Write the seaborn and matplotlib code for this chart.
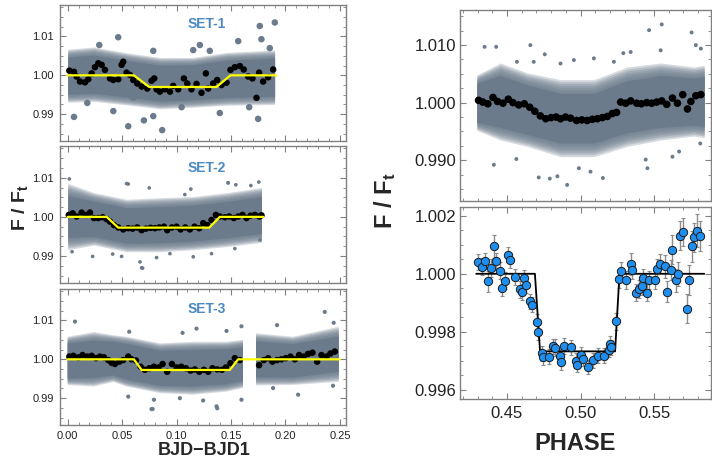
import numpy as np
import matplotlib
matplotlib.use('Agg')
import matplotlib.pyplot as plt
from matplotlib.ticker import MultipleLocator, FormatStrFormatter
import seaborn as sns

# ---- colours
CLOUD = '#6c7b8c'
TITLE_C = '#4b89c2'
SPINE_C = '#808080'
BLUE = '#1f8fef'

# ---- SET-1 (time since BJD1)
s1_cx = [0.000, 0.024, 0.054, 0.085, 0.115, 0.146, 0.190]
s1_mid = [0.9999, 1.0003, 0.9991, 0.9980, 0.9982, 0.9991, 0.9995]
s1_core = [0.0048, 0.0049, 0.0047, 0.0046, 0.0045, 0.0048, 0.0049]
s1_outer = [0.0068, 0.0070, 0.0067, 0.0066, 0.0064, 0.0068, 0.0070]
s1_ox = [0.0464, 0.0058, 0.0556, 0.0868, 0.0700, 0.0786, 0.1764, 0.1902, 0.1749, 0.1397,
         0.0180, 0.0290, 0.0786, 0.1153, 0.1305, 0.1566, 0.1779, 0.1856, 0.1214, 0.0419,
         0.1046, 0.1667, 0.0602]
s1_oy = [1.0098, 0.9893, 0.9869, 0.9859, 0.9884, 0.9895, 1.0127, 1.0136, 0.9888, 0.9903,
         0.9929, 1.0078, 1.0063, 1.0065, 1.0063, 1.0088, 1.0093, 1.0070, 1.0078, 0.9908,
         0.9918, 0.9918, 0.9943]
s1_bx = [0.0015, 0.0058, 0.0082, 0.0113, 0.0159, 0.0189, 0.0220, 0.0250, 0.0281, 0.0312,
         0.0342, 0.0388, 0.0419, 0.0465, 0.0495, 0.0510, 0.0541, 0.0572, 0.0602, 0.0639,
         0.0679, 0.0731, 0.0770, 0.0795, 0.0816, 0.0847, 0.0893, 0.0939, 0.0969, 0.1015,
         0.1067, 0.1098, 0.1137, 0.1183, 0.1229, 0.1269, 0.1290, 0.1336, 0.1373, 0.1413,
         0.1459, 0.1495, 0.1535, 0.1581, 0.1617, 0.1657, 0.1697, 0.1734, 0.1758, 0.1795,
         0.1841, 0.1887]
s1_by = [1.0012, 1.0009, 0.9997, 0.9984, 0.9982, 0.9990, 1.0005, 1.0021, 1.0031, 1.0027,
         1.0014, 0.9992, 0.9988, 0.9990, 1.0027, 1.0035, 1.0007, 1.0001, 0.9988, 0.9979,
         0.9971, 0.9966, 0.9986, 0.9992, 0.9964, 0.9958, 0.9964, 0.9958, 0.9973, 0.9964,
         0.9992, 0.9979, 0.9964, 0.9978, 0.9955, 1.0005, 0.9966, 0.9979, 0.9988, 0.9975,
         0.9981, 1.0014, 1.0021, 1.0024, 1.0015, 0.9997, 0.9992, 0.9942, 1.0007, 0.9984,
         0.9995, 1.0015]
s1_mx = [0.000, 0.0608, 0.0749, 0.1367, 0.1495, 0.1917]
s1_my = [1.000, 1.000, 0.9970, 0.9970, 1.000, 1.000]

# ---- SET-2
s2_cx = [0.000, 0.024, 0.054, 0.085, 0.115, 0.146, 0.178]
s2_mid = [1.0001, 0.9995, 0.9978, 0.9980, 0.9984, 0.9993, 1.0005]
s2_core = [0.0053, 0.0045, 0.0045, 0.0046, 0.0046, 0.0046, 0.0047]
s2_outer = [0.0085, 0.0067, 0.0067, 0.0069, 0.0068, 0.0069, 0.0070]
s2_ox = [0.0015, 0.0556, 0.0749, 0.1076, 0.1474, 0.1544, 0.1682, 0.1755, 0.0040, 0.0229,
         0.0413, 0.0495, 0.0679, 0.0664, 0.0816, 0.0939, 0.1153, 0.1321, 0.1535, 0.1765,
         0.0541, 0.0688, 0.1131, 0.1473]
s2_oy = [1.0097, 1.0084, 1.0074, 1.0057, 1.0087, 1.0082, 1.0080, 1.0089, 0.9911, 0.9899,
         0.9905, 0.9899, 0.9870, 0.9885, 0.9896, 0.9906, 0.9898, 0.9906, 0.9919, 0.9941,
         1.0085, 0.9869, 1.0071, 1.0087]
s2_bx = [0.0010, 0.0046, 0.0082, 0.0128, 0.0168, 0.0205, 0.0241, 0.0281, 0.0321, 0.0358,
         0.0388, 0.0425, 0.0465, 0.0510, 0.0556, 0.0596, 0.0639, 0.0679, 0.0719, 0.0761,
         0.0801, 0.0841, 0.0884, 0.0914, 0.0957, 0.1000, 0.1037, 0.1080, 0.1122, 0.1165,
         0.1208, 0.1245, 0.1281, 0.1321, 0.1361, 0.1397, 0.1443, 0.1483, 0.1526, 0.1566,
         0.1606, 0.1642, 0.1679, 0.1719, 0.1759, 0.1780]
s2_by = [1.0005, 1.0009, 1.0001, 1.0011, 1.0005, 1.0011, 0.9997, 0.9997, 0.9999, 0.9994,
         0.9988, 0.9979, 0.9973, 0.9968, 0.9971, 0.9970, 0.9973, 0.9966, 0.9970, 0.9972,
         0.9971, 0.9973, 0.9975, 0.9966, 0.9973, 0.9975, 0.9968, 0.9973, 0.9968, 0.9975,
         0.9971, 0.9984, 0.9979, 0.9992, 1.0005, 1.0001, 0.9999, 1.0001, 0.9997, 1.0001,
         1.0005, 0.9997, 1.0003, 1.0005, 1.0001, 1.0004]
s2_mx = [0.000, 0.0358, 0.0464, 0.1300, 0.1397, 0.1795]
s2_my = [1.000, 1.000, 0.99725, 0.99725, 1.000, 1.000]

# ---- SET-3 (gap in the data around 0.167)
s3_cx = [0.000, 0.024, 0.042, 0.054, 0.085, 0.115, 0.146, 0.161, 0.167, 0.173, 0.207, 0.249]
s3_mid = [0.9996, 1.0000, 1.0002, 0.9994, 0.9977, 0.9977, 0.9981, 0.9988, np.nan, 1.0000, 0.9996, 1.0013]
s3_core = [0.0045, 0.0048, 0.0043, 0.0046, 0.0045, 0.0047, 0.0045, 0.0043, np.nan, 0.0046, 0.0043, 0.0045]
s3_outer = [0.0062, 0.0070, 0.0060, 0.0064, 0.0064, 0.0068, 0.0064, 0.0062, np.nan, 0.0067, 0.0062, 0.0071]
s3_ox = [0.0067, 0.0565, 0.1183, 0.1596, 0.2361, 0.2443, 0.1923, 0.0792, 0.0770, 0.1030,
         0.1244, 0.1367, 0.1596, 0.1886, 0.2116, 0.2437, 0.0556, 0.0780, 0.1373, 0.1055,
         0.1459]
s3_oy = [1.0097, 1.0071, 1.0079, 1.0085, 1.0122, 1.0094, 1.0088, 0.9896, 0.9872, 0.9900,
         0.9894, 0.9879, 0.9896, 0.9926, 0.9909, 0.9932, 0.9904, 0.9872, 0.9874, 1.0068,
         1.0073]
s3_bx = [0.0015, 0.0052, 0.0098, 0.0137, 0.0180, 0.0220, 0.0260, 0.0296, 0.0333, 0.0373,
         0.0404, 0.0434, 0.0474, 0.0510, 0.0556, 0.0587, 0.0627, 0.0670, 0.0709, 0.0749,
         0.0792, 0.0835, 0.0872, 0.0914, 0.0957, 0.1000, 0.1043, 0.1086, 0.1128, 0.1168,
         0.1208, 0.1251, 0.1290, 0.1330, 0.1373, 0.1416, 0.1453, 0.1495, 0.1535, 0.1581,
         0.1758, 0.1801, 0.1841, 0.1880, 0.1923, 0.1963, 0.2003, 0.2046, 0.2086, 0.2125,
         0.2168, 0.2208, 0.2248, 0.2291, 0.2331, 0.2377, 0.2413, 0.2453]
s3_by = [1.0007, 1.0009, 1.0005, 1.0011, 1.0007, 1.0009, 1.0003, 1.0007, 1.0005, 0.9998,
         0.9991, 0.9988, 0.9994, 0.9998, 1.0007, 1.0000, 0.9997, 0.9981, 0.9973, 0.9977,
         0.9981, 0.9979, 0.9988, 0.9968, 0.9988, 0.9979, 0.9981, 0.9977, 0.9971, 0.9974,
         0.9968, 0.9973, 0.9968, 0.9977, 0.9974, 0.9973, 0.9979, 0.9990, 1.0003, 0.9998,
         0.9985, 0.9998, 1.0003, 0.9994, 0.9998, 1.0000, 1.0003, 1.0007, 1.0000, 1.0011,
         1.0007, 1.0014, 1.0017, 0.9994, 1.0011, 1.0007, 1.0015, 1.0020]
s3_mx = [0.000, 0.0608, 0.0679, 0.1489, 0.1565, 0.2498]
s3_my = [1.000, 1.000, 0.99726, 0.99726, 1.000, 1.000]

# ---- phase-folded, all data
rt_cx = [0.4295, 0.4455, 0.4636, 0.4864, 0.5091, 0.5318, 0.5545, 0.5773, 0.5841]
rt_mid = [1.0000, 1.0002, 0.9988, 0.9973, 0.9973, 0.9993, 1.0002, 1.0002, 1.0002]
rt_core = [0.0034, 0.0045, 0.0043, 0.0043, 0.0043, 0.0045, 0.0045, 0.0041, 0.0043]
rt_outer = [0.0048, 0.0067, 0.0064, 0.0067, 0.0067, 0.0069, 0.0067, 0.0060, 0.0063]
rt_ox = [0.4348, 0.4427, 0.4659, 0.4757, 0.5466, 0.5552, 0.5755, 0.5784, 0.5818, 0.4411,
         0.4564, 0.4716, 0.4791, 0.4843, 0.4909, 0.4989, 0.5152, 0.5068, 0.5443, 0.5455,
         0.5625, 0.5670, 0.5814, 0.4864, 0.4955, 0.5091, 0.5227, 0.5291, 0.5341, 0.5545,
         0.4568, 0.4682]
rt_oy = [1.0097, 1.0097, 1.0100, 1.0084, 1.0126, 1.0136, 1.0122, 1.0100, 1.0094, 0.9892,
         0.9902, 0.9870, 0.9868, 0.9872, 0.9857, 0.9886, 0.9869, 0.9880, 0.9901, 0.9886,
         0.9906, 0.9915, 0.9929, 1.0068, 1.0074, 1.0077, 1.0071, 1.0086, 1.0088, 1.0091,
         1.0071, 1.0071]
rt_bx = [0.4307, 0.4336, 0.4370, 0.4405, 0.4436, 0.4473, 0.4509, 0.4541, 0.4580, 0.4618,
         0.4655, 0.4689, 0.4727, 0.4764, 0.4800, 0.4834, 0.4864, 0.4898, 0.4932, 0.4973,
         0.5009, 0.5045, 0.5080, 0.5114, 0.5148, 0.5182, 0.5216, 0.5245, 0.5273, 0.5307,
         0.5341, 0.5382, 0.5414, 0.5450, 0.5484, 0.5518, 0.5552, 0.5586, 0.5625, 0.5659,
         0.5695, 0.5727, 0.5750, 0.5784, 0.5818]
rt_by = [1.0004, 1.0001, 0.9998, 1.0009, 1.0002, 0.9999, 1.0006, 1.0000, 0.9996, 0.9998,
         0.9992, 0.9985, 0.9977, 0.9972, 0.9974, 0.9975, 0.9972, 0.9975, 0.9973, 0.9969,
         0.9970, 0.9969, 0.9971, 0.9972, 0.9974, 0.9976, 0.9981, 0.9983, 1.0001, 0.9999,
         1.0003, 0.9999, 0.9998, 1.0000, 0.9999, 1.0001, 1.0003, 0.9997, 1.0008, 0.9999,
         1.0014, 0.9989, 1.0002, 1.0012, 1.0014]

# ---- binned phase curve with errors
ph = [0.4306, 0.4329, 0.4352, 0.4368, 0.4391, 0.4409, 0.4427, 0.4450, 0.4466, 0.4484,
      0.4507, 0.4523, 0.4552, 0.4586, 0.4600, 0.4618, 0.4632, 0.4659, 0.4670, 0.4702,
      0.4711, 0.4739, 0.4745, 0.4784, 0.4814, 0.4825, 0.4859, 0.4864, 0.4891, 0.4932,
      0.4966, 0.4977, 0.5005, 0.5016, 0.5050, 0.5084, 0.5118, 0.5159, 0.5193, 0.5200,
      0.5207, 0.5239, 0.5262, 0.5273, 0.5309, 0.5341, 0.5352, 0.5380, 0.5396, 0.5418,
      0.5423, 0.5455, 0.5464, 0.5505, 0.5521, 0.5541, 0.5571, 0.5589, 0.5612, 0.5621,
      0.5648, 0.5662, 0.5675, 0.5700, 0.5721, 0.5739, 0.5759, 0.5773, 0.5793, 0.5812]
fl = [1.00040, 1.00025, 1.00045, 0.99975, 1.00020, 1.00094, 1.00043, 1.00011, 0.99952, 0.99976,
      1.00065, 1.00046, 0.99988, 0.99946, 0.99937, 0.99985, 0.99963, 0.99906, 0.99893, 0.99834,
      0.99799, 0.99726, 0.99713, 0.99715, 0.99751, 0.99746, 0.99716, 0.99695, 0.99751, 0.99747,
      0.99701, 0.99687, 0.99722, 0.99707, 0.99678, 0.99703, 0.99718, 0.99718, 0.99739, 0.99759,
      0.99747, 0.99836, 0.99982, 1.00009, 0.99979, 1.00033, 1.00013, 0.99935, 0.99948, 0.99958,
      0.99985, 0.99935, 0.99979, 0.99978, 1.00016, 1.00035, 1.00026, 0.99938, 1.00013, 1.00082,
      0.99977, 0.99999, 1.00131, 1.00143, 0.99880, 0.99979, 1.00094, 1.00126, 1.00149, 1.00131]
fl_err = [0.00028, 0.00030, 0.00028, 0.00036, 0.00030, 0.00038, 0.00030, 0.00028, 0.00028, 0.00030,
          0.00026, 0.00026, 0.00028, 0.00030, 0.00028, 0.00028, 0.00030, 0.00026, 0.00026, 0.00026,
          0.00026, 0.00026, 0.00026, 0.00026, 0.00026, 0.00028, 0.00026, 0.00026, 0.00028, 0.00026,
          0.00026, 0.00026, 0.00026, 0.00026, 0.00024, 0.00026, 0.00026, 0.00026, 0.00026, 0.00028,
          0.00026, 0.00030, 0.00030, 0.00030, 0.00030, 0.00038, 0.00030, 0.00030, 0.00030, 0.00030,
          0.00030, 0.00030, 0.00030, 0.00030, 0.00034, 0.00034, 0.00040, 0.00036, 0.00036, 0.00050,
          0.00040, 0.00040, 0.00050, 0.00048, 0.00050, 0.00052, 0.00052, 0.00050, 0.00056, 0.00052]
pm_x = [0.4291, 0.4690, 0.4725, 0.5235, 0.5265, 0.5841]
pm_y = [1.000, 1.000, 0.99733, 0.99733, 1.000, 1.000]

sns.set_style('ticks')
plt.rcParams['font.family'] = ['Liberation Sans', 'DejaVu Sans']
plt.rcParams['mathtext.fontset'] = 'custom'
plt.rcParams['mathtext.rm'] = 'Liberation Sans:bold'
plt.rcParams['mathtext.bf'] = 'Liberation Sans:bold'
plt.rcParams['mathtext.it'] = 'Liberation Sans:bold'

fig = plt.figure(figsize=(7.12, 4.62), dpi=100)


def cloud(ax, x, mid, core, outer, ox, oy, s):
    # dense core of the unbinned points, fading toward the sparse edges
    x = np.array(x)
    mid = np.array(mid)
    core = np.array(core)
    outer = np.array(outer)
    for f in np.linspace(0, 1, 8):
        w = outer + (core - outer) * f
        ax.fill_between(x, mid - w, mid + w, color=CLOUD, alpha=0.28, lw=0)
    ax.fill_between(x, mid - core, mid + core, color=CLOUD, alpha=1.0, lw=0)
    sns.scatterplot(x=ox, y=oy, ax=ax, color=CLOUD, s=s, edgecolor='none', linewidth=0, legend=False)


def frame(ax, fs, xmaj, xmin, ymaj, ymin, xfmt, yfmt, pad):
    for sp in ax.spines.values():
        sp.set_color(SPINE_C)
        sp.set_linewidth(1.0)
    ax.xaxis.set_major_locator(MultipleLocator(xmaj))
    ax.xaxis.set_minor_locator(MultipleLocator(xmin))
    ax.yaxis.set_major_locator(MultipleLocator(ymaj))
    ax.yaxis.set_minor_locator(MultipleLocator(ymin))
    ax.xaxis.set_major_formatter(FormatStrFormatter(xfmt))
    ax.yaxis.set_major_formatter(FormatStrFormatter(yfmt))
    ax.tick_params(which='both', direction='in', top=True, right=True, color=SPINE_C,
                   labelsize=fs, labelcolor='#222222', pad=pad)
    ax.tick_params(which='major', length=4, width=0.8)
    ax.tick_params(which='minor', length=2, width=0.6)
    ax.set_xlabel('')
    ax.set_ylabel('')


left_sets = [
    (s1_cx, s1_mid, s1_core, s1_outer, s1_ox, s1_oy, s1_bx, s1_by, s1_mx, s1_my, 'SET-1', 22, 22, 0.86),
    (s2_cx, s2_mid, s2_core, s2_outer, s2_ox, s2_oy, s2_bx, s2_by, s2_mx, s2_my, 'SET-2', 7, 22, 0.84),
    (s3_cx, s3_mid, s3_core, s3_outer, s3_ox, s3_oy, s3_bx, s3_by, s3_mx, s3_my, 'SET-3', 9, 22, 0.85),
]
left_pos = [(0.0836, 0.6948, 0.4022, 0.2944),
            (0.0836, 0.3874, 0.4022, 0.2965),
            (0.0836, 0.0801, 0.4022, 0.2944)]

for i, (pos, d) in enumerate(zip(left_pos, left_sets)):
    cx, mid, core, outer, ox, oy, bx, by, mx, my, name, gs, bs, ty = d
    ax = fig.add_axes(pos)
    cloud(ax, cx, mid, core, outer, ox, oy, gs)
    sns.scatterplot(x=bx, y=by, ax=ax, color='black', s=bs, edgecolor='none', linewidth=0, legend=False, zorder=3)
    sns.lineplot(x=mx, y=my, ax=ax, color='#ffff00', lw=1.6, estimator=None, sort=False, zorder=4)
    ax.set_xlim(-0.0075, 0.2555)
    ax.set_ylim(0.9831, 1.0181)
    frame(ax, 8, 0.05, 0.01, 0.01, 0.0025, '%.2f', '%.2f', 4)
    ax.text(0.515, ty, name, transform=ax.transAxes, ha='center', va='center',
            color=TITLE_C, fontsize=10, fontweight='bold')
    if i < 2:
        ax.tick_params(labelbottom=False)

# right top
ax = fig.add_axes((0.6461, 0.5649, 0.3525, 0.4134))
cloud(ax, rt_cx, rt_mid, rt_core, rt_outer, rt_ox, rt_oy, 8)
sns.scatterplot(x=rt_bx, y=rt_by, ax=ax, color='black', s=30, edgecolor='none', linewidth=0, legend=False, zorder=3)
ax.set_xlim(0.4181, 0.5887)
ax.set_ylim(0.9829, 1.0161)
frame(ax, 12, 0.05, 0.01, 0.01, 0.0025, '%.2f', '%.3f', 2.5)
ax.tick_params(labelbottom=False)

# right bottom
ax = fig.add_axes((0.6461, 0.1364, 0.3525, 0.4156))
ax.errorbar(ph, fl, yerr=fl_err, fmt='none', ecolor='#8c8c8c', elinewidth=1.0, capsize=1.5, capthick=0.8, zorder=1)
sns.lineplot(x=pm_x, y=pm_y, ax=ax, color='black', lw=1.3, estimator=None, sort=False, zorder=2)
sns.scatterplot(x=ph, y=fl, ax=ax, color=BLUE, s=36, edgecolor='#1a1a1a', linewidth=0.7, legend=False, zorder=3)
ax.set_xlim(0.4181, 0.5887)
ax.set_ylim(0.99569, 1.0023)
frame(ax, 12, 0.05, 0.01, 0.002, 0.0005, '%.2f', '%.3f', 2.5)
ax.tick_params(axis='x', pad=5)

# axis titles
fig.text(0.028, 0.552, r'$\mathbf{F\ /\ F_t}$', rotation=90, ha='center', va='center', fontsize=14)
fig.text(0.541, 0.567, r'$\mathbf{F\ /\ F_t}$', rotation=90, ha='center', va='center', fontsize=17)
fig.text(0.286, 0.024, 'BJD\u2212BJD1', ha='center', va='center', fontsize=13, fontweight='bold')
fig.text(0.8076, 0.039, 'PHASE', ha='center', va='center', fontsize=17, fontweight='bold')

fig.savefig('out.png', dpi=100)
